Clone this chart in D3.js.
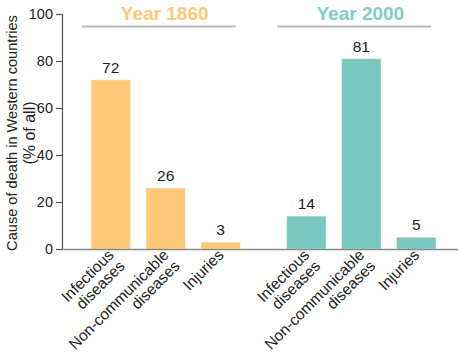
<!DOCTYPE html>
<html>
<head>
<meta charset="utf-8">
<script src="https://cdn.jsdelivr.net/npm/d3@7"></script>
<style>
  html, body { margin: 0; padding: 0; background: #fff; }
  svg { display: block; font-family: "Liberation Sans", Arial, sans-serif; }
</style>
</head>
<body>
<svg id="chart" width="460" height="358"></svg>
<script>
const years = ["Year 1860", "Year 2000"];
const categories = ["Infectious diseases", "Non-communicable diseases", "Injuries"];
const categoryLines = [["Infectious", "diseases"], ["Non-communicable", "diseases"], ["Injuries"]];
const values1860 = [72, 26, 3];
const values2000 = [14, 81, 5];
const yTicks = [0, 20, 40, 60, 80, 100];
const yTitleLines = ["Cause of death in Western countries", "(% of all)"];
const yearColors = ["#FFC878", "#77C8BE"];
const titleColors = ["#FFC878", "#7ECDC3"];

const seriesValues = [values1860, values2000];

const svg = d3.select("#chart");
const axisX = 62, axisBottom = 249, axisTop = 14, axisRight = 458;

const y = d3.scaleLinear().domain([0, 100]).range([axisBottom, axisTop]);
const x0 = d3.scaleBand().domain(years).range([axisX, 465]).paddingInner(0.157).paddingOuter(0.1086);
const x1 = d3.scaleBand().domain(categories).range([0, x0.bandwidth()]).paddingInner(0.282).paddingOuter(0.141);

// y axis
const yAxis = d3.axisLeft(y).tickValues(yTicks).tickSize(6).tickPadding(3);
const gy = svg.append("g").attr("transform", `translate(${axisX},0)`).call(yAxis);
gy.select(".domain").attr("stroke", "#555").attr("stroke-width", 1.2).attr("d", `M-6,${axisTop}.5H0.5V${axisBottom}`);
gy.selectAll(".tick line").attr("stroke", "#555").attr("stroke-width", 1.2);
gy.selectAll(".tick text").attr("font-size", 14.5).attr("fill", "#222").attr("font-family", "Liberation Sans, Arial, sans-serif");

// y title
const yTitleX = [16.5, 34.5];
const yTitleSize = [14.6, 16];
yTitleLines.forEach((t, i) => {
  svg.append("text")
    .attr("transform", `translate(${yTitleX[i]},${133}) rotate(-90)`)
    .attr("text-anchor", "middle")
    .attr("font-size", yTitleSize[i])
    .attr("fill", "#222")
    .text(t);
});

// groups
years.forEach((yr, gi) => {
  const g = svg.append("g").attr("transform", `translate(${x0(yr)},0)`);
  const cx = x0.bandwidth() / 2;
  // title
  g.append("text")
    .attr("x", cx - 1)
    .attr("y", 20)
    .attr("text-anchor", "middle")
    .attr("font-size", 19)
    .attr("font-weight", "bold")
    .attr("fill", titleColors[gi])
    .text(yr);
  g.append("line")
    .attr("x1", cx - 84).attr("x2", cx + 70)
    .attr("y1", 26.5).attr("y2", 26.5)
    .attr("stroke", "#bbb").attr("stroke-width", 2);

  const vals = seriesValues[gi];
  categories.forEach((c, ci) => {
    const v = vals[ci];
    g.append("rect")
      .attr("x", x1(c))
      .attr("y", y(v))
      .attr("width", x1.bandwidth())
      .attr("height", y(0) - y(v))
      .attr("fill", yearColors[gi])
      .attr("stroke", "rgba(255,255,255,0.45)")
      .attr("stroke-width", 1);
    g.append("text")
      .attr("x", x1(c) + x1.bandwidth() / 2)
      .attr("y", y(v) - 7)
      .attr("text-anchor", "middle")
      .attr("font-size", 15.5)
      .attr("fill", "#222")
      .text(v);
    // category label
    const bx = x1(c) + x1.bandwidth() / 2;
    const t = g.append("text")
      .attr("transform", `translate(${bx + 4},${axisBottom + 7}) rotate(-45)`)
      .attr("text-anchor", "end")
      .attr("font-size", 15.5)
      .attr("fill", "#222");
    categoryLines[ci].forEach((ln, li) => {
      t.append("tspan").attr("x", 0).attr("dy", li === 0 ? 0 : "1.0em").text(ln);
    });
  });
});

// bottom axis line
svg.append("line")
  .attr("x1", axisX).attr("x2", axisRight)
  .attr("y1", axisBottom + 0.5).attr("y2", axisBottom + 0.5)
  .attr("stroke", "#888").attr("stroke-width", 1.5);
</script>
</body>
</html>
